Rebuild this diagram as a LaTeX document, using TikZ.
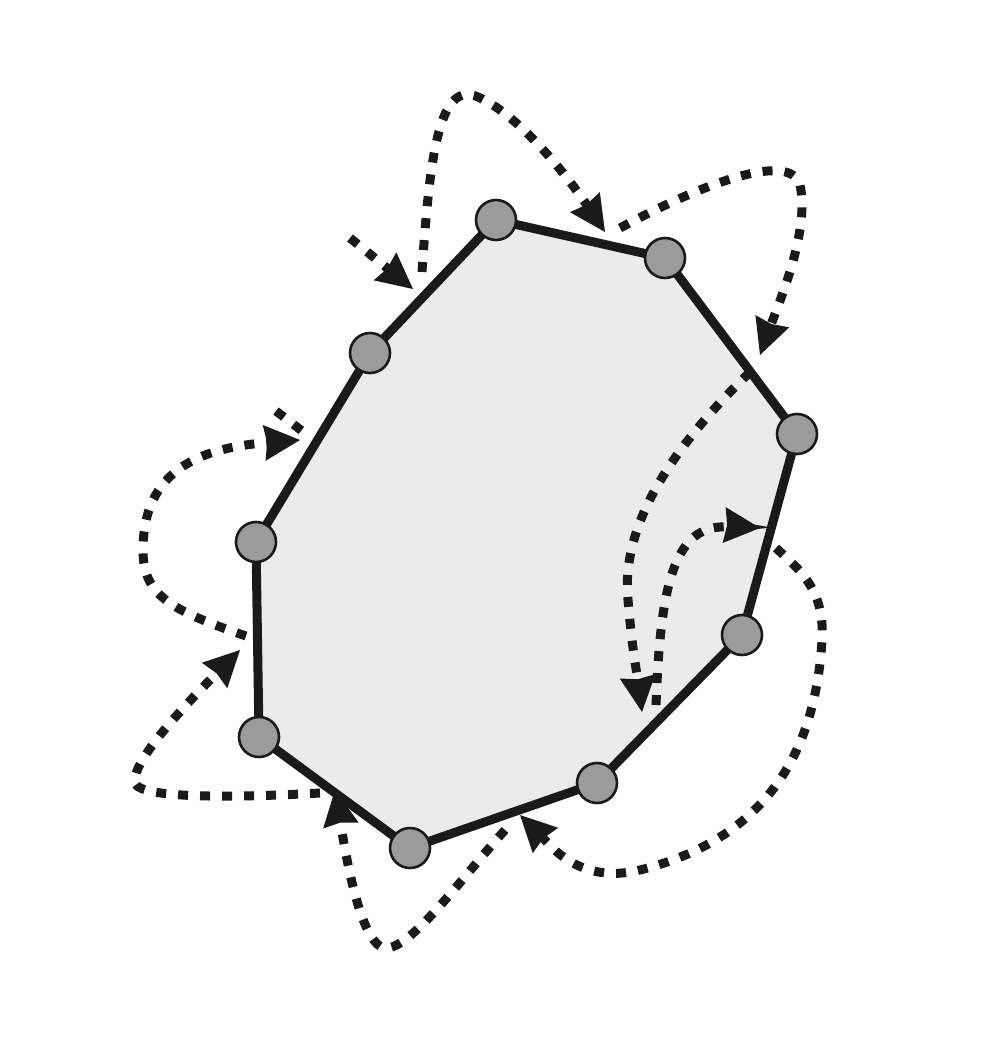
\documentclass[tikz,border=0pt]{standalone}
\usepackage{tikz}
\usetikzlibrary{arrows.meta,positioning}

\definecolor{ink}{HTML}{1A1A1A}
\definecolor{face}{HTML}{EBEBEB}
\definecolor{knot}{HTML}{9B9B9B}

\tikzset{
  vertex/.style={draw=ink, circle, fill=knot, line width=1.3pt, minimum size=20pt, inner sep=0pt},
  rim/.style={draw=ink, fill=face, line width=4.5pt, line join=round},
  walk/.style={draw=ink, line width=4.5pt, dash pattern=on 5pt off 6pt,
    -{Stealth[length=18pt,width=18pt,inset=1.5pt,line width=0pt]}},
  tail/.style={draw=ink, line width=4.5pt, dash pattern=on 5pt off 6pt}
}

\begin{document}
\begin{tikzpicture}[x=0.5pt,y=-0.5pt]
        \useasboundingbox (0,0) rectangle (1006,1038);

        \coordinate (p1) at (496,220);
        \coordinate (p2) at (665,258);
        \coordinate (p3) at (797,434);
        \coordinate (p4) at (742,635);
        \coordinate (p5) at (597,783);
        \coordinate (p6) at (410,848);
        \coordinate (p7) at (259,737);
        \coordinate (p8) at (256,542);
        \coordinate (p9) at (370,353);

        \path[rim] (p1) -- (p2) -- (p3) -- (p4) -- (p5) -- (p6) -- (p7) -- (p8) -- (p9) -- cycle;

        % the walk round the polygon
        \coordinate (a0) at (350,238);
        \coordinate (a1) at (413,289);
        \draw[walk] (a0) -- (a1);

        \draw[walk] (422,272) .. controls (430,150) and (440,80) .. (478,97)
                    .. controls (520,115) and (570,180) .. (605,232);
        \draw[walk] (620,228) .. controls (700,185) and (790,150) .. (800,185)
                    .. controls (810,230) and (780,300) .. (760,355);
        \draw[walk] (750,372) .. controls (680,440) and (620,520) .. (628,600)
                    .. controls (632,650) and (638,680) .. (642,712);
        \draw[walk] (656,705) .. controls (660,600) and (670,530) .. (720,527)
                    .. controls (735,526) and (748,527) .. (760,528);
        \draw[walk] (776,548) .. controls (800,570) and (825,590) .. (822,640)
                    .. controls (815,760) and (760,840) .. (640,870)
                    .. controls (580,885) and (550,845) .. (520,815);
        \draw[walk] (505,830) .. controls (460,880) and (410,950) .. (385,948)
                    .. controls (360,945) and (345,850) .. (335,790);
        \draw[walk] (320,793) .. controls (250,797) and (140,800) .. (135,783)
                    .. controls (130,760) and (200,690) .. (240,650);
        \draw[walk] (246,636) .. controls (170,610) and (143,595) .. (143,550)
                    .. controls (143,470) and (200,448) .. (300,440);
        \draw[tail] (276,411) -- (306,434);

        \foreach \i in {1,...,9}
            \node[vertex] (v\i) at (p\i) {};
\end{tikzpicture}
\end{document}
